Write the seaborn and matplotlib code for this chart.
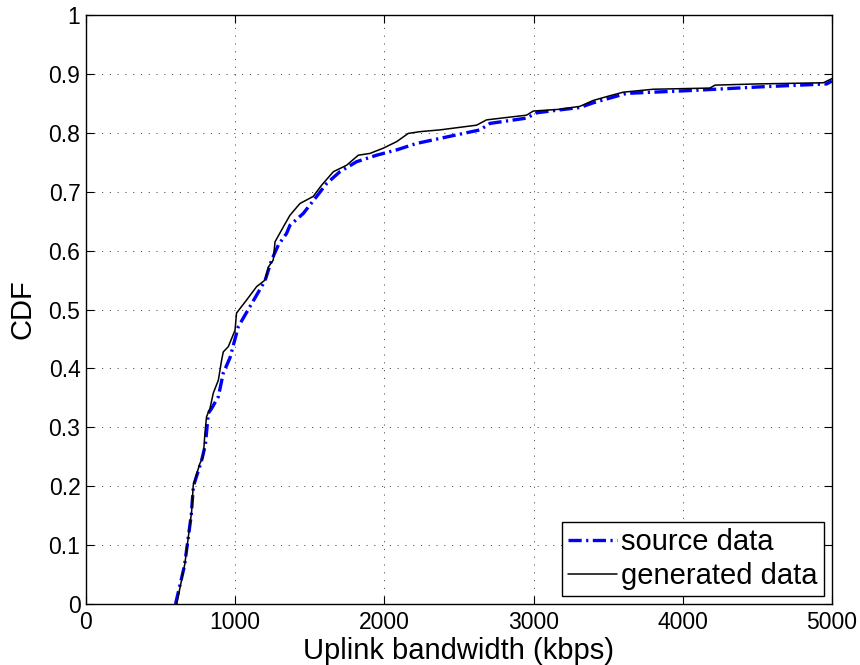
import matplotlib
matplotlib.use("Agg")
import matplotlib.pyplot as plt
import numpy as np
import pandas as pd
import seaborn as sns

# Empirical CDF of uplink bandwidth (kbps)
source_bw = [600, 660, 705, 720, 775, 800, 820, 842, 887, 920, 965, 1021, 1099,
             1200, 1244, 1290, 1344, 1367, 1456, 1546, 1613, 1702, 1814, 1948,
             2082, 2216, 2400, 2641, 2708, 2953, 3020, 3177, 3311, 3400, 3623,
             4070, 4517, 4964, 5000]
source_cdf = [0.0, 0.065, 0.15, 0.20, 0.244, 0.27, 0.324, 0.332, 0.352, 0.392,
              0.418, 0.471, 0.505, 0.549, 0.584, 0.61, 0.629, 0.643, 0.663,
              0.692, 0.714, 0.734, 0.751, 0.762, 0.771, 0.782, 0.792, 0.805,
              0.816, 0.825, 0.834, 0.839, 0.843, 0.851, 0.867, 0.872, 0.878,
              0.883, 0.888]

generated_bw = [608, 663, 708, 719, 764, 786, 797, 808, 831, 853, 887, 909, 920,
                954, 999, 1009, 1076, 1144, 1200, 1222, 1255, 1267, 1322, 1367,
                1434, 1523, 1579, 1658, 1747, 1825, 1903, 1993, 2082, 2160, 2239,
                2373, 2618, 2685, 2953, 2998, 3177, 3311, 3400, 3512, 3601, 3802,
                4182, 4216, 4495, 4942, 5000]
generated_cdf = [0.0, 0.069, 0.157, 0.202, 0.239, 0.250, 0.290, 0.318, 0.332,
                 0.358, 0.380, 0.414, 0.428, 0.437, 0.465, 0.494, 0.516, 0.539,
                 0.550, 0.572, 0.584, 0.615, 0.640, 0.660, 0.680, 0.692, 0.711,
                 0.734, 0.745, 0.762, 0.765, 0.774, 0.785, 0.799, 0.802, 0.805,
                 0.813, 0.822, 0.830, 0.837, 0.840, 0.845, 0.855, 0.863, 0.869,
                 0.874, 0.876, 0.881, 0.883, 0.885, 0.892]

x_ticks = [0, 1000, 2000, 3000, 4000, 5000]
y_ticks = [0, 0.1, 0.2, 0.3, 0.4, 0.5, 0.6, 0.7, 0.8, 0.9, 1]
y_tick_labels = ["0", "0.1", "0.2", "0.3", "0.4", "0.5", "0.6", "0.7", "0.8", "0.9", "1"]

sns.set_theme(style="white")
plt.rcParams["font.family"] = ["Liberation Sans", "DejaVu Sans"]
plt.rcParams["lines.scale_dashes"] = False
plt.rcParams["text.color"] = "black"
plt.rcParams["axes.labelcolor"] = "black"

fig = plt.figure(figsize=(8.6, 6.65), dpi=100)
ax = fig.add_axes([0.1, 0.0917, 0.8674, 0.8857])

src = pd.DataFrame({"bw": source_bw, "cdf": source_cdf})
gen = pd.DataFrame({"bw": generated_bw, "cdf": generated_cdf})

sns.lineplot(data=src, x="bw", y="cdf", ax=ax, sort=False, estimator=None,
             color=(0, 0, 1), linewidth=2.4, label="source data",
             linestyle=(0, (9.5, 3.2, 1.6, 3.2)))
sns.lineplot(data=gen, x="bw", y="cdf", ax=ax, sort=False, estimator=None,
             color="black", linewidth=1.1, label="generated data")

ax.set_xlim(0, 5000)
ax.set_ylim(0, 1)
ax.set_xticks(x_ticks)
ax.set_xticklabels([str(t) for t in x_ticks])
ax.set_yticks(y_ticks)
ax.set_yticklabels(y_tick_labels)

ax.grid(True, color="black", linewidth=0.6, linestyle=(0, (0.8, 4.8)), alpha=0.8)
for s in ax.spines.values():
    s.set_color("black")
    s.set_linewidth(1.0)
    s.set_visible(True)

ax.tick_params(axis="both", which="major", direction="in", length=5.8, width=0.8,
               top=True, right=True, bottom=True, left=True,
               labelsize=16.5, colors="black", labelcolor="black")
ax.tick_params(axis="x", pad=5)
ax.tick_params(axis="y", pad=4)

ax.set_xlabel("Uplink bandwidth (kbps)", fontsize=21, labelpad=2.5, color="black")
ax.set_ylabel("CDF", fontsize=21, labelpad=9, color="black")

leg = ax.legend(loc="lower right", fontsize=21, frameon=True, fancybox=False,
                edgecolor="black", framealpha=1, borderaxespad=0.28,
                handlelength=1.7, handletextpad=0.15, borderpad=0.2,
                labelspacing=0.2)
leg.get_frame().set_linewidth(1.0)
for t in leg.get_texts():
    t.set_color("black")

fig.savefig("out.png", dpi=100)
